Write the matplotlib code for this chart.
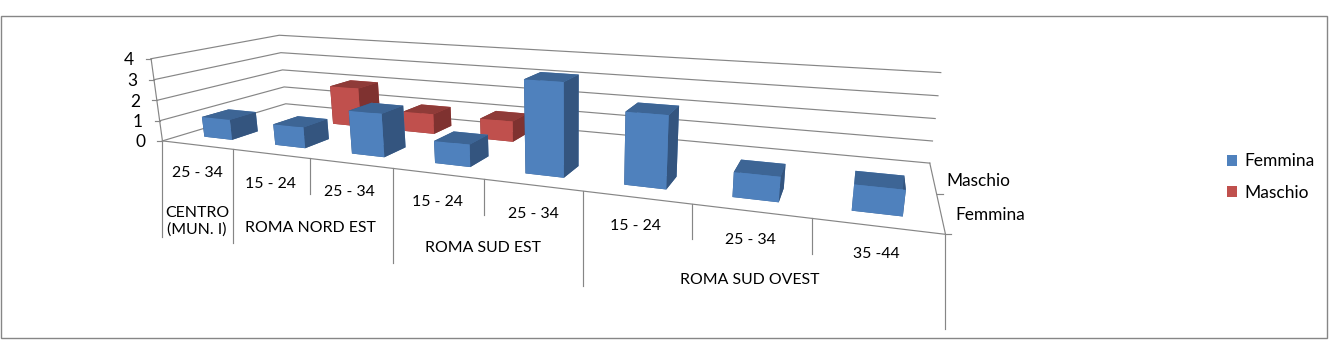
import numpy as np
import matplotlib
matplotlib.use("Agg")
import matplotlib.pyplot as plt
from matplotlib.lines import Line2D
from matplotlib.patches import Patch, Rectangle

W, H = 1330, 354
FONT = "Lato"
plt.rcParams["font.family"] = [FONT, "DejaVu Sans"]

# ---- data ----
age_labels = ["25 - 34", "15 - 24", "25 - 34", "15 - 24", "25 - 34", "15 - 24", "25 - 34", "35 -44"]
zones = ["CENTRO\n(MUN. I)", "ROMA NORD EST", "ROMA SUD EST", "ROMA SUD OVEST"]
series_names = ["Femmina", "Maschio"]
femmina = [1, 1, 2, 1, 4, 3, 1, 1]
maschio = [0, 2, 1, 1, 0, 0, 0, 0]
z_ticks = [0, 1, 2, 3, 4]

# ---- view geometry: correspondences (category, series, value) -> pixel, used to fit a camera ----
calib = [
    ((0, 0, 0), (163.3, 141)), ((1, 0, 0), (233.6, 150)), ((2, 0, 0), (310, 158)),
    ((3, 0, 0), (393, 169)), ((4, 0, 0), (483, 179.5)), ((5, 0, 0), (582.5, 190.7)),
    ((6, 0, 0), (691.7, 204)), ((7, 0, 0), (811.7, 218.3)), ((8, 0, 0), (946, 234)),
    ((0, 2, 0), (285, 103.5)), ((8, 2, 0), (930, 164)), ((8, 1, 0), (936.7, 193)),
    ((0, 0, 4), (150.7, 59)), ((0, 2, 4), (280, 35)), ((8, 2, 4), (940.7, 72.7)),
    ((0, 0, 2), (156, 100)), ((8, 2, 2), (935, 118.7)),
]
rows = []
for (x, y, z), (u, v) in calib:
    p = [x, y, z, 1]
    rows.append(p + [0, 0, 0, 0] + [-u * c for c in p])
    rows.append([0, 0, 0, 0] + p + [-v * c for c in p])
P = np.linalg.svd(np.array(rows, float))[2][-1].reshape(3, 4)
if P[2] @ [4, 1, 0, 1] < 0:
    P = -P


def to_px(x, y, z):
    q = P @ [x, y, z, 1]
    return q[0] / q[2], q[1] / q[2]


fig = plt.figure(figsize=(W / 100, H / 100), dpi=100, facecolor="white")
ax = fig.add_axes([0, 0, 1, 1], projection="3d")
ax.apply_aspect = lambda position=None: None
ax.set_axis_off()
ax.set_autoscale_on(False)
ax.computed_zorder = False


def get_proj():
    flip = np.array([[1, 0, 0], [0, -1, H], [0, 0, 1]], float)
    Q = ax.transData.inverted().get_matrix() @ flip @ P
    return np.vstack([Q[0], Q[1], [0, 0, 0, -1], Q[2]])


ax.get_proj = get_proj

GRID = "#868686"
LW = 0.85
n = len(age_labels)
for z in z_ticks:
    ax.plot([0, 0, n], [0, 2, 2], [z, z, z], color=GRID, lw=LW, zorder=1)
ax.plot([0, 0], [0, 0], [0, 4], color=GRID, lw=LW, zorder=1)
ax.plot([0, n, n], [0, 0, 2], [0, 0, 0], color=GRID, lw=LW, zorder=1)

BLUE = ["#3D6595", "#3D6595", "#4F81BD", "#4F81BD", "#34557F", "#34557F"]
RED = ["#8F3B38", "#8F3B38", "#C0504D", "#C0504D", "#7F3230", "#7F3230"]
bw, gap = 0.4, 0.3
for row, vals, cols, zo in [(1, maschio, RED, 2), (0, femmina, BLUE, 3)]:
    for i, v in enumerate(vals):
        if v:
            ax.bar3d(i + gap, row + gap, 0, bw, bw, v, color=cols, shade=False, zorder=zo, linewidth=0)


def px_line(xs, ys, **kw):
    fig.add_artist(Line2D([a / W for a in xs], [1 - b / H for b in ys], color=GRID, lw=LW, **kw))


def px_text(x, y, s, **kw):
    fig.text(x / W, 1 - (y + 1.5) / H, s, ha=kw.pop("ha", "center"), va="center", color="black", **kw)


# hanging separators of the multi-level category axis
drop_ends = [237, 243, 194, 263, 215, 286, 239, 254, 329]
for i, end in enumerate(drop_ends):
    x0, y0 = to_px(i, 0, 0)
    px_line([x0, x0], [y0, end])

# value ticks and series ticks
for z in z_ticks:
    x0, y0 = to_px(0, 0, z)
    px_line([x0 - 5, x0], [y0, y0])
    px_text(x0 - 22, y0, str(z), fontsize=12.5)
for s in (1, 0):
    x0, y0 = to_px(n, s, 0)
    px_line([x0, x0 + 6], [y0, y0])

TXT = 11.4
age_xy = [(197, 172), (270, 182), (349, 190), (437, 201), (533, 212), (635, 225), (750, 238), (876, 253)]
for (x, y), s in zip(age_xy, age_labels):
    px_text(x, y, s, fontsize=TXT)
zone_xy = [(197, 220), (310, 226), (483, 246), (750, 279)]
for (x, y), s in zip(zone_xy, zones):
    px_text(x, y, s, fontsize=TXT, linespacing=1.25)
px_text(978, 179, series_names[1], fontsize=12.4)
px_text(990, 214, series_names[0], fontsize=12.4)

handles = [Patch(facecolor="#4F81BD", label=series_names[0]), Patch(facecolor="#C0504D", label=series_names[1])]
fig.legend(handles=handles, loc="center left", bbox_to_anchor=(1227 / W, 1 - 177 / H), frameon=False,
           fontsize=12.5, handlelength=0.6, handleheight=0.6, handletextpad=0.38, labelspacing=0.9,
           borderpad=0, borderaxespad=0)

fig.add_artist(Rectangle((0.5 / W, 1 - 338.3 / H), 1326.8 / W, 322.3 / H, transform=fig.transFigure,
                         fill=False, edgecolor=GRID, lw=1))
fig.savefig("out.png", dpi=100)
